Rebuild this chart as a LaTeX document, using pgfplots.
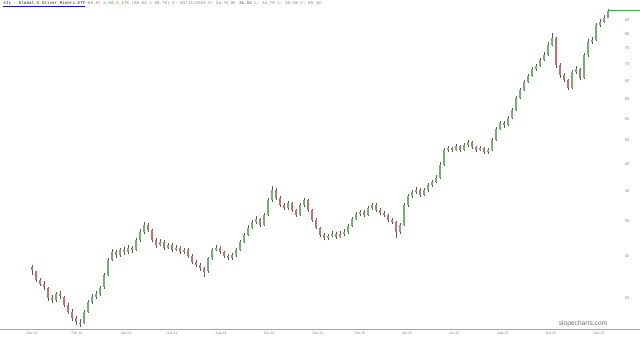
\documentclass[border=0pt]{standalone}
\usepackage{fontspec}
\setmainfont{Liberation Sans}
\setmonofont{Liberation Mono}
\usepackage{pgfplots}
\usepackage{pgfplotstable}
\pgfplotsset{compat=1.18}
\definecolor{upc}{RGB}{110,180,110}
\definecolor{dnc}{RGB}{205,110,110}
\definecolor{wick}{RGB}{90,90,90}
\definecolor{lastc}{RGB}{60,170,60}
\definecolor{titc}{RGB}{20,20,190}
\definecolor{txtc}{RGB}{130,130,130}
\pgfplotstableread{
x o h l c
32 28.6 28.9 27.7 28.28
36 28.1 28.2 26.8 27.06
40 27.0 27.3 26.3 26.59
44 26.6 26.9 25.9 26.24
48 26.1 26.2 24.7 25.00
52 25.0 25.3 24.4 24.78
56 24.8 25.7 24.6 25.44
60 25.4 25.8 24.9 25.22
64 25.1 25.2 24.0 24.24
68 24.2 24.4 23.3 23.51
72 23.5 23.8 22.6 22.89
76 22.9 23.1 22.2 22.49
80 22.4 22.8 22.0 22.30
84 22.4 23.7 22.3 23.51
88 23.5 24.8 23.4 24.56
92 24.5 25.4 24.3 25.11
96 25.1 25.8 24.9 25.44
100 25.4 26.4 25.2 26.13
104 26.2 27.9 26.0 27.67
108 27.7 29.8 27.5 29.56
112 29.6 31.0 29.4 30.62
116 30.6 30.9 29.8 30.21
120 30.2 31.2 30.0 30.89
124 30.9 31.3 30.2 30.62
128 30.6 31.5 30.4 31.16
132 31.1 31.4 30.5 30.89
136 30.9 32.6 30.8 32.28
140 32.3 33.8 32.0 33.44
144 33.4 35.0 33.2 34.48
148 34.5 34.8 33.4 33.73
152 33.7 33.9 32.0 32.28
156 32.3 32.5 31.2 31.57
160 31.6 32.4 31.4 32.00
164 32.0 32.2 30.9 31.16
168 31.2 31.9 31.0 31.57
172 31.6 31.8 30.6 30.89
176 30.9 31.6 30.7 31.16
180 31.2 31.4 30.3 30.62
184 30.6 31.2 30.4 30.89
188 30.9 31.1 29.8 30.08
192 30.1 30.3 29.0 29.30
196 29.3 29.6 28.6 28.91
200 28.9 29.2 28.2 28.53
204 28.5 28.7 27.4 28.04
208 28.1 30.0 27.9 29.82
212 29.8 31.2 29.6 30.89
216 30.9 31.6 30.7 31.16
220 31.2 31.4 30.3 30.62
224 30.6 30.8 29.8 30.08
228 30.1 30.3 29.5 29.82
232 29.8 30.5 29.6 30.21
236 30.2 31.2 30.0 30.89
240 30.9 32.3 30.7 32.00
244 32.0 33.3 31.8 33.00
248 33.0 34.4 32.8 34.03
252 34.0 35.3 33.8 34.94
256 34.9 35.8 34.6 35.40
260 35.4 35.6 34.2 34.48
264 34.5 36.4 34.3 36.04
268 36.0 38.9 35.8 38.50
272 38.5 40.95 38.2 40.23
276 40.2 40.5 38.5 38.84
280 38.8 39.1 37.3 37.66
284 37.7 38.0 36.8 37.17
288 37.2 38.3 36.9 37.99
292 38.0 38.2 36.5 36.84
296 36.8 37.0 35.7 36.04
300 36.0 38.0 35.9 37.66
304 37.7 38.9 37.4 38.50
308 38.5 38.6 36.5 36.84
312 36.8 37.0 35.0 35.25
316 35.3 35.5 33.8 34.03
320 34.0 34.2 32.7 33.00
324 33.0 33.3 32.2 32.56
328 32.6 33.2 32.3 32.86
332 32.9 33.5 32.7 33.15
336 33.1 33.4 32.4 32.71
340 32.7 33.5 32.5 33.15
344 33.2 33.8 32.9 33.44
348 33.4 34.6 33.2 34.33
352 34.3 35.7 34.1 35.40
356 35.4 36.5 35.2 36.20
360 36.2 36.9 35.9 36.52
364 36.5 36.8 35.7 36.04
368 36.0 37.5 35.8 37.17
372 37.2 38.0 36.9 37.66
376 37.7 37.9 36.5 36.84
380 36.8 37.1 36.0 36.36
384 36.4 36.7 35.7 36.04
388 36.0 36.2 34.9 35.25
392 35.3 35.6 34.6 34.94
396 34.9 35.1 32.6 33.44
400 33.4 34.8 33.2 34.48
404 34.5 38.0 34.3 37.66
408 37.7 39.6 37.4 39.19
412 39.2 40.3 38.9 39.88
416 39.9 40.7 39.6 40.23
420 40.2 40.5 39.0 39.36
424 39.4 40.6 39.1 40.23
428 40.2 41.5 39.9 41.13
432 41.1 42.1 40.8 41.67
436 41.7 42.9 41.4 42.41
440 42.4 45.4 42.2 44.92
444 44.9 48.5 44.7 47.98
448 48.0 48.9 47.6 48.40
452 48.4 48.7 47.5 47.98
456 48.0 49.3 47.7 48.84
460 48.8 49.1 47.5 47.98
464 48.0 49.5 47.8 49.05
468 49.0 50.2 48.7 49.70
472 49.7 49.9 48.2 48.62
476 48.6 48.9 47.5 47.98
480 48.0 48.8 47.7 48.40
484 48.4 48.6 47.1 47.57
488 47.6 48.4 47.2 47.98
492 48.0 50.6 47.8 50.15
496 50.2 53.1 50.0 52.63
500 52.6 54.6 52.3 54.04
504 54.0 54.4 52.9 53.57
508 53.6 55.8 53.3 55.25
512 55.3 57.8 55.0 57.23
516 57.2 60.9 57.0 60.34
520 60.3 63.1 60.0 62.50
524 62.5 65.4 62.2 64.76
528 64.8 67.1 64.4 66.47
532 66.5 69.3 66.1 68.56
536 68.6 70.2 68.0 69.48
540 69.5 72.0 69.1 71.34
544 71.3 73.8 70.9 72.92
548 72.9 77.2 72.5 76.21
552 76.2 80.35 75.8 78.60
556 78.6 78.9 69.0 69.78
560 69.8 70.3 66.0 66.77
564 66.8 67.4 64.6 65.32
568 65.3 65.6 62.4 63.06
572 63.1 68.2 62.8 67.66
576 67.7 69.4 67.0 68.56
580 68.6 69.0 65.3 65.90
584 65.9 73.6 65.6 72.92
588 72.9 78.1 72.4 77.23
592 77.2 78.9 76.5 77.91
596 77.9 84.0 77.5 83.23
600 83.2 85.4 82.5 84.34
604 84.3 86.9 83.8 85.84
608 86.0 89.3 85.9 88.52
}\candles
\begin{document}
\begin{tikzpicture}
\begin{axis}[
  at={(0pt,8.25pt)}, anchor=south west,
  scale only axis, width=480pt, height=246.75pt,
  xmin=0, xmax=640,
  ymode=log, ymin=21.8, ymax=92.9,
  axis x line=bottom, axis y line=right,
  x axis line style={-, draw=black!35, line width=0.5pt},
  y axis line style={draw=none},
  major tick length=0pt,
  xtick={32,77,126,172,221,269,318,360,407,454,503,551,599},
  xticklabels={Dec 23,Feb 24,Apr 24,Jun 24,Aug 24,Oct 24,Dec 24,Feb 25,Apr 25,Jun 25,Aug 25,Oct 25,Dec 25},
  ytick={25,30,35,40,45,50,55,60,65,70,75,80,85},
  yticklabels={25,30,35,40,45,50,55,60,65,70,75,80,85},
  xticklabel style={font=\fontsize{2.6}{3}\selectfont, text=txtc, yshift=1.2pt},
  yticklabel style={font=\fontsize{3}{3.5}\selectfont, text=txtc, anchor=center, xshift=-9.75pt},
  /pgf/number format/assume math mode=true,
  unbounded coords=discard,
]
% wicks
\addplot[draw=none, mark=none, forget plot,
  error bars/.cd, y dir=plus, y explicit, error mark=none,
  error bar style={draw=wick, line width=0.35pt, solid}]
  table[x=x, y=l, y error plus expr=\thisrow{h}-\thisrow{l}] {\candles};
% up bodies
\addplot[draw=none, mark=none, forget plot,
  x filter/.expression={\thisrow{c}>=\thisrow{o} ? x : nan},
  error bars/.cd, y dir=plus, y explicit, error mark=none,
  error bar style={draw=upc, line width=1.9pt, solid}]
  table[x=x, y=o, y error plus expr=\thisrow{c}-\thisrow{o}] {\candles};
% down bodies
\addplot[draw=none, mark=none, forget plot,
  x filter/.expression={\thisrow{c}<\thisrow{o} ? x : nan},
  error bars/.cd, y dir=plus, y explicit, error mark=none,
  error bar style={draw=dnc, line width=1.9pt, solid}]
  table[x=x, y=c, y error plus expr=\thisrow{o}-\thisrow{c}] {\candles};
% last price line
\addplot[lastc, line width=0.8pt] coordinates {(608,88.52) (640,88.52)};
\node[anchor=west, inner sep=0pt, font=\ttfamily\fontsize{3.2}{3.6}\selectfont, text=txtc]
  at (axis description cs:0.005,0.988)
  {\textcolor{titc}{\underline{SIL - Global X Silver Miners ETF}} 88.97 \textcolor{lastc}{2.00 2.17\%} (88.62 x 88.75) D: 03/11/2024 O: 34.76 \textbf{H: 35.92} L: 34.70 C: 35.38 V: 89.10};
\node[anchor=center, inner sep=0pt, font=\fontsize{5}{6}\selectfont, text=black!55]
  at (axis description cs:0.911,0.015) {slopecharts.com};
\end{axis}
\pgfresetboundingbox
\path (0,0) rectangle (480pt,255pt);
\end{tikzpicture}
\end{document}
